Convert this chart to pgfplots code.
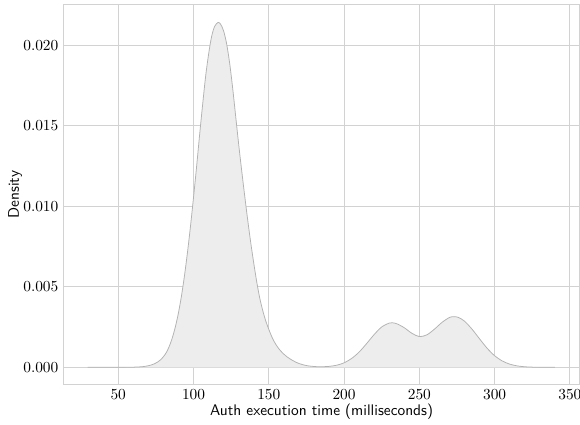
\documentclass[border=0pt]{standalone}
\usepackage{pgfplots}
\pgfplotsset{compat=1.18}
\usetikzlibrary{calc}
\pgfplotstableread{
x y
29.7 0
40 0
50 0.000001
60 0.00001
66 0.00004
70 0.0001
72 0.00015
74 0.00022
76 0.00032
78 0.00046
80 0.00066
82 0.00093
84 0.00133
86 0.00186
88 0.00254
90 0.00339
92 0.00444
94 0.00570
96 0.00715
98 0.00878
100 0.01056
102 0.01243
104 0.01440
106 0.01628
108 0.01805
110 0.01945
112 0.02055
114 0.02118
116.3 0.02143
118 0.02132
120 0.02090
122 0.02010
124 0.01890
126 0.01735
128 0.01560
130 0.01385
132 0.01222
134 0.01065
136 0.00915
138 0.00775
140 0.00648
142 0.00530
144 0.00430
146 0.00352
148 0.00288
150 0.00236
152 0.00190
154 0.00153
156 0.00124
158 0.00101
160 0.00082
162 0.00066
164 0.00053
166 0.00042
168 0.00032
170 0.00024
172 0.00018
175 0.00011
178 0.00007
182 0.00004
186 0.00004
190 0.00006
195 0.00013
200 0.00028
205 0.00055
210 0.00095
215 0.00148
220 0.00204
225 0.00251
230 0.00275
232 0.00277
235 0.00271
240 0.00246
245 0.00212
250 0.00191
255 0.00202
260 0.00237
265 0.00279
270 0.00310
273 0.00315
276 0.00310
280 0.00287
285 0.00237
290 0.00177
295 0.00119
300 0.00072
305 0.00040
310 0.00020
315 0.00009
320 0.000035
325 0.000013
330 0.000004
335 0.000001
340 0
}\kde
\begin{document}
\begin{tikzpicture}
\begin{axis}[
  scale only axis,
  width=335.7pt, height=247pt,
  xmin=13.8, xmax=356.3,
  ymin=-0.001054, ymax=0.02252,
  xtick={50,100,150,200,250,300,350},
  ytick={0,0.005,0.01,0.015,0.02},
  scaled y ticks=false,
  yticklabel style={/pgf/number format/.cd, fixed, fixed zerofill, precision=3},
  major tick length=0pt,
  grid=major,
  major grid style={color=gray!35, line width=0.6pt},
  axis line style={color=gray!35, line width=0.6pt},
  xlabel={\sffamily Auth execution time (milliseconds)},
  ylabel={\sffamily Density},
  xlabel style={yshift=4pt},
  ylabel style={yshift=-6pt},
  tick label style={font=\normalsize},
  axis on top=false,
]
\addplot[draw=none, fill=gray!14] table[x=x, y=y] {\kde} \closedcycle;
\addplot[color=gray!60, line width=0.5pt, smooth] table[x=x, y=y] {\kde};
\end{axis}
\pgfresetboundingbox
\path ($(current axis.outer south west)+(-2pt,0pt)$) rectangle ($(current axis.north east)+(0.4pt,3.2pt)$);
\end{tikzpicture}
\end{document}
